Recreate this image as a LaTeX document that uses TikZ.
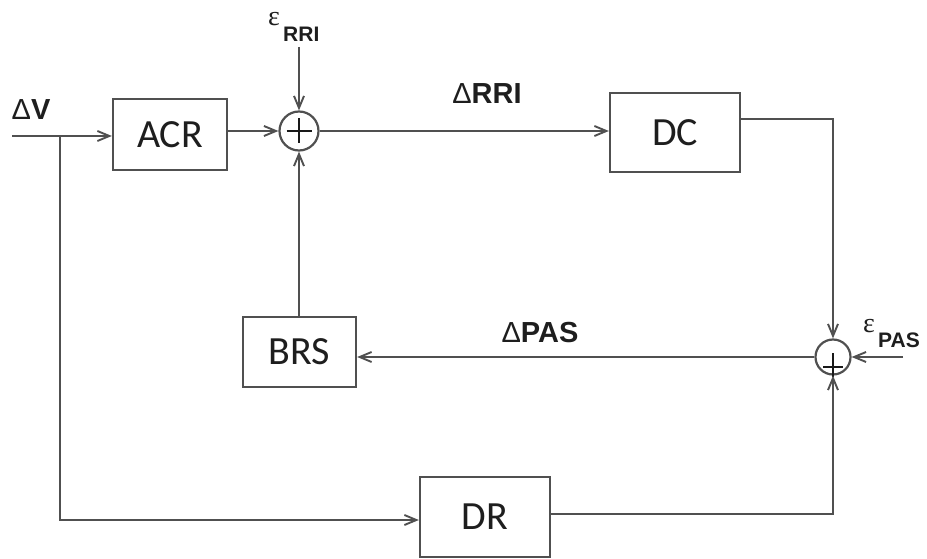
\documentclass[tikz,border=0pt]{standalone}
\usepackage{fontspec}
\setmainfont{Liberation Sans}
\newfontfamily\boxfont{Carlito}
\newfontfamily\epsfont{Liberation Serif}
\usetikzlibrary{arrows.meta,calc}
\definecolor{ln}{HTML}{505050}
\definecolor{tx}{HTML}{1e1e1e}
\begin{document}
\begin{tikzpicture}[x=1pt,y=-1pt,
  blk/.style={draw=ln, line width=2.3pt, inner sep=0pt, text=tx,
    font=\boxfont\fontsize{40}{40}\selectfont},
  small/.style={blk, minimum width=114pt, minimum height=71pt},
  big/.style={blk, minimum width=130pt, minimum height=79pt},
  sumnode/.style={circle, draw=ln, line width=2.2pt, inner sep=0pt},
  conn/.style={draw=ln, line width=2.2pt},
  arr/.style={conn, -{Straight Barb[length=12pt,width=10pt,line width=1.9pt]}},
  lab/.style={inner sep=0pt, text=tx, font=\fontsize{29}{29}\selectfont\bfseries},
  eps/.style={inner sep=0pt, text=tx, font=\epsfont\fontsize{28}{28}\selectfont},
  sub/.style={inner sep=0pt, text=tx, font=\fontsize{21}{21}\selectfont\bfseries},
  plus/.style={draw=black!90, line width=2.8pt}]
\useasboundingbox[fill=white] (0,0) rectangle (927,559);

% blocks
\node[small] (ACR) at (170,134.5) {ACR};
\node[big]   (DC)  at (675,132.5) {DC};
\node[small, minimum width=113pt, minimum height=70pt] (BRS) at (299.5,352) {BRS};
\node[big, minimum height=80pt] (DR) at (485,517) {DR};

% summing junctions
\node[sumnode, minimum size=39pt] (sR) at (299,131) {};
\node[sumnode, minimum size=35pt] (sP) at (833,357) {};
\draw[plus] ($(sR)+(-12.5,0)$) -- ($(sR)+(12.5,0)$);
\draw[plus] ($(sR)+(0,-12.5)$) -- ($(sR)+(0,12.5)$);
\draw[plus] ($(sP)+(-10,10)$) -- ($(sP)+(10,10)$);
\draw[plus] ($(sP)+(0,-4)$) -- ($(sP)+(0,20)$);

% free ends
\coordinate (in)   at (12,136);
\coordinate (br)   at (60,136);
\coordinate (eR)   at (299,47);
\coordinate (eP)   at (903,357);

% labels
\node[lab] (lV) at (31,110) {{\mdseries Δ}V};
\node[lab] (lRRI) at (487,94) {{\mdseries Δ}RRI};
\node[lab] (lPAS) at (540,333) {{\mdseries Δ}PAS};
\node[eps] (eps1) at (274,19) {ε};
\node[sub, anchor=west] (s1) at (283,34) {RRI};
\node[eps] (eps2) at (869,326) {ε};
\node[sub, anchor=west] (s2) at (878,340) {PAS};

% connectors
\draw[arr] (in) -- (ACR.west |- in);
\draw[arr] (ACR.east |- sR) -- (sR.west);
\draw[arr] (eR) -- (sR.north);
\draw[arr] (sR.east) -- (DC.west |- sR.east);
\draw[arr] ($(DC.east)+(0,-13.5)$) -| (sP.north);
\draw[arr] (eP) -- (sP.east);
\draw[arr] (sP.west) -- (BRS.east |- sP.west);
\draw[arr] (BRS.north -| sR.south) -- (sR.south);
\draw[arr] (br) |- ($(DR.west)+(0,3)$);
\draw[arr] ($(DR.east)+(0,-3)$) -| (sP.south);
\end{tikzpicture}
\end{document}
